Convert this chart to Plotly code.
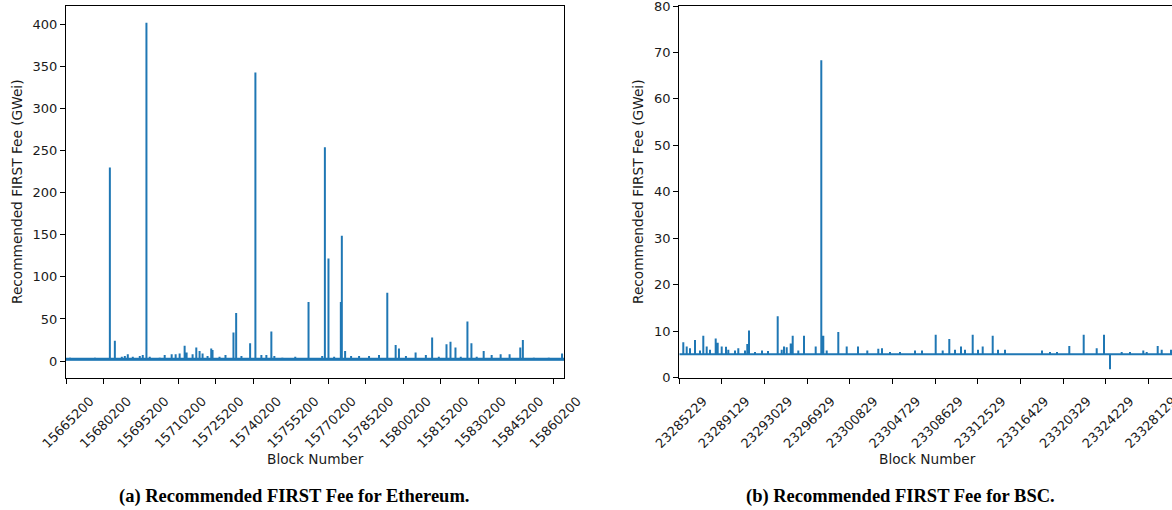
import plotly.graph_objects as go

# ---------------- data ----------------
eth_range = [15665200, 15864500]
eth_base_fee = 2.2
eth_spike_blocks = [15666796, 15669987, 15676769, 15682753, 15684748, 15687541, 15688738,
                    15689934, 15691929, 15694722, 15695919, 15697394, 15698711, 15702700,
                    15704695, 15707488, 15709083, 15710679, 15712674, 15713472, 15715866,
                    15717342, 15718658, 15719855, 15721850, 15723326, 15723844, 15726637,
                    15729030, 15732222, 15733299, 15735413, 15738884, 15740999, 15743392,
                    15745387, 15747382, 15748579, 15751770, 15756956, 15762262, 15767728,
                    15768805, 15770241, 15772515, 15775188, 15775587, 15776903, 15779297,
                    15782489, 15786478, 15790468, 15793779, 15797130, 15798446, 15801239,
                    15805109, 15809218, 15811731, 15814404, 15817476, 15819072, 15821066,
                    15823181, 15825854, 15827450, 15829564, 15832357, 15835549, 15839139,
                    15842730, 15846999, 15848036, 15852428, 15858412, 15863718]
eth_spike_fees = [4, 3, 4, 230, 24, 5, 6,
                  8, 5, 6, 7, 402, 5, 4,
                  7, 8, 8, 9, 18, 10, 8,
                  16, 12, 9, 6, 15, 13, 5,
                  7, 34, 57, 6, 21, 343, 7,
                  7, 35, 6, 4, 5, 70, 6,
                  254, 122, 5, 70, 149, 12, 6,
                  6, 6, 7, 81, 19, 15, 6,
                  10, 7, 28, 5, 20, 23, 16,
                  5, 47, 21, 5, 12, 7, 8,
                  8, 16, 25, 4, 4, 9]

bsc_range = [23285229, 23330262]
bsc_base_fee = 5.0
bsc_spike_blocks = [23285595, 23285905, 23286207, 23286664, 23287121, 23287423, 23287733,
                    23288035, 23288556, 23288739, 23289104, 23289497, 23289708, 23290320,
                    23290622, 23291234, 23291444, 23291600, 23292148, 23292788, 23293336,
                    23294223, 23294589, 23294799, 23295046, 23295411, 23295594, 23296106,
                    23296626, 23297696, 23298208, 23298391, 23298702, 23299762, 23300530,
                    23301562, 23302412, 23303418, 23303756, 23304487, 23305401, 23306772,
                    23307412, 23308664, 23309304, 23309907, 23310428, 23310977, 23311342,
                    23312046, 23312530, 23312960, 23313874, 23314359, 23314999, 23318381,
                    23319112, 23319752, 23320875, 23322191, 23323380, 23324047, 23324595,
                    23325664, 23326423, 23327639, 23327950, 23328955, 23329321, 23330171]
bsc_spike_fees = [7.6, 6.7, 6.3, 8.1, 5.8, 9.0, 6.7,
                  6.0, 8.4, 7.5, 6.7, 6.6, 6.0, 5.8,
                  6.3, 5.8, 7.2, 10.1, 5.5, 5.8, 5.7,
                  13.2, 6.0, 6.7, 6.5, 7.3, 9.0, 5.8,
                  9.0, 6.7, 68.3, 9.0, 5.8, 9.8, 6.7,
                  6.7, 5.8, 6.2, 6.3, 5.5, 5.5, 5.8,
                  5.8, 9.2, 5.8, 8.3, 6.0, 6.7, 6.0,
                  9.2, 6.0, 6.7, 9.0, 6.0, 6.0, 5.8,
                  5.5, 5.5, 6.8, 9.2, 6.3, 9.2, 1.8,
                  5.5, 5.5, 5.8, 5.5, 6.8, 6.0, 6.0]

eth_ticks = [15665200, 15680200, 15695200, 15710200, 15725200, 15740200, 15755200,
             15770200, 15785200, 15800200, 15815200, 15830200, 15845200, 15860200]
bsc_ticks = [23285229, 23289129, 23293029, 23296929, 23300829, 23304729, 23308629,
             23312529, 23316429, 23320329, 23324229, 23328129]
eth_yticks = [0, 50, 100, 150, 200, 250, 300, 350, 400]
bsc_yticks = [0, 10, 20, 30, 40, 50, 60, 70, 80]


def build_series(rng, base, blocks, fees):
    xs, ys = [rng[0]], [base]
    for b, f in zip(blocks, fees):
        xs += [b, b, b]
        ys += [base, f, base]
    xs.append(rng[1])
    ys.append(base)
    return xs, ys


W, H = 1172, 510
BLUE = "#1f77b4"
FONT = "DejaVu Sans"

fig = go.Figure()
ex, ey = build_series(eth_range, eth_base_fee, eth_spike_blocks, eth_spike_fees)
bx, by = build_series(bsc_range, bsc_base_fee, bsc_spike_blocks, bsc_spike_fees)
# baseline band (dense per-block jitter rendered as a thicker stroke)
fig.add_trace(go.Scatter(x=eth_range, y=[eth_base_fee, eth_base_fee], mode="lines",
                         line=dict(color=BLUE, width=3.0), xaxis="x", yaxis="y",
                         showlegend=False, hoverinfo="skip"))
fig.add_trace(go.Scatter(x=ex, y=ey, mode="lines", line=dict(color=BLUE, width=2),
                         xaxis="x", yaxis="y", showlegend=False, hoverinfo="skip"))
fig.add_trace(go.Scatter(x=bx, y=by, mode="lines", line=dict(color=BLUE, width=2),
                         xaxis="x2", yaxis="y2", showlegend=False, hoverinfo="skip"))

ydom = [1 - 377.5 / H, 1 - 6 / H]
common_x = dict(showgrid=False, zeroline=False, showline=True, linecolor="#000", linewidth=1.1,
                ticks="outside", ticklen=5, tickwidth=1, tickcolor="#000", tickangle=-45,
                tickfont=dict(family=FONT, size=13, color="#1a1a1a"), ticklabelshift=24,
                ticklabelstandoff=5, ticklabeloverflow="allow", automargin=False)
common_y = dict(showgrid=False, zeroline=False, showline=True, linecolor="#000", linewidth=1.1,
                ticks="outside", ticklen=5, tickwidth=1, tickcolor="#000",
                tickfont=dict(family=FONT, size=13, color="#1a1a1a"),
                ticklabeloverflow="allow", automargin=False)

fig.update_layout(
    width=W, height=H, margin=dict(l=0, r=0, t=0, b=0, autoexpand=False),
    plot_bgcolor="white", paper_bgcolor="white",
    xaxis=dict(domain=[66 / W, 564 / W], range=eth_range, tickvals=eth_ticks,
               ticktext=[str(t) for t in eth_ticks], mirror=True, anchor="y", **common_x),
    yaxis=dict(domain=ydom, range=[-19.6, 422], tickvals=eth_yticks, mirror=True,
               anchor="x", **common_y),
    xaxis2=dict(domain=[679.3 / W, 1.0], range=bsc_range, tickvals=bsc_ticks,
                ticktext=[str(t) for t in bsc_ticks], mirror=True, anchor="y2", **common_x),
    yaxis2=dict(domain=ydom, range=[0, 80.001], tickvals=bsc_yticks, mirror=False,
                anchor="x2", **common_y),
)

ann_font = dict(family=FONT, size=13.7, color="#1a1a1a")
cap_font = dict(family="Liberation Serif", size=18.5, color="#000")
annotations = [
    dict(text="Recommended FIRST Fee (GWei)", x=17 / W, y=1 - 192 / H, textangle=-90, font=ann_font),
    dict(text="Recommended FIRST Fee (GWei)", x=638 / W, y=1 - 192 / H, textangle=-90, font=ann_font),
    dict(text="Block Number", x=315 / W, y=1 - 459 / H, font=ann_font),
    dict(text="Block Number", x=927 / W, y=1 - 459 / H, font=ann_font),
    dict(text="<b>(a) Recommended FIRST Fee for Ethereum.</b>", x=294 / W, y=1 - 496 / H, font=cap_font),
    dict(text="<b>(b) Recommended FIRST Fee for BSC.</b>", x=901 / W, y=1 - 496 / H, font=cap_font),
]
for a in annotations:
    a.update(xref="paper", yref="paper", showarrow=False, xanchor="center", yanchor="middle")
fig.update_layout(annotations=annotations)

fig.write_html("out.html", config={"displayModeBar": False},
               post_script="document.body.style.margin='0';document.body.style.overflow='hidden';")
